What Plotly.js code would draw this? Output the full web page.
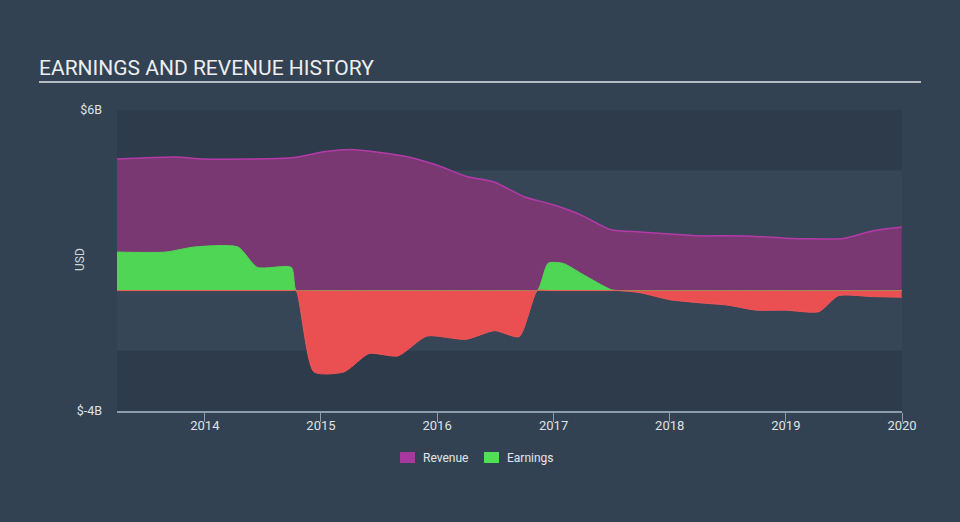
<!DOCTYPE html>
<html>
<head>
<meta charset="utf-8">
<script src="https://cdn.plot.ly/plotly-3.0.1.min.js"></script>
<style>
html,body{margin:0;padding:0;background:#334252;}
#chart{width:960px;height:522px;}
</style>
</head>
<body>
<div id="chart"></div>
<script>
// Revenue (USD, billions)
var revenueDates = ['2013-03-31','2013-09-30','2013-12-31','2014-09-30','2015-01-15','2015-04-01','2015-06-30','2015-09-30','2015-12-31','2016-03-31','2016-06-30','2016-09-30','2016-12-31','2017-03-31','2017-06-30','2017-09-30','2017-12-31','2018-03-31','2018-06-30','2018-09-30','2018-12-31','2019-03-31','2019-06-30','2019-09-30','2019-12-31'];
var revenueValues = [4.37,4.44,4.37,4.41,4.62,4.69,4.60,4.45,4.17,3.80,3.60,3.12,2.85,2.50,2.02,1.95,1.88,1.82,1.82,1.80,1.74,1.72,1.73,1.98,2.11];

// Earnings (USD, billions)
var earningsDates = ['2013-03-31','2013-08-31','2013-11-30','2014-04-15','2014-06-15','2014-09-30','2014-12-10','2015-03-15','2015-06-01','2015-08-31','2015-11-30','2016-03-31','2016-06-30','2016-09-15','2016-12-15','2017-02-01','2017-04-01','2017-07-01','2017-09-30','2017-12-31','2018-03-31','2018-06-30','2018-09-30','2018-12-31','2019-04-15','2019-06-15','2019-09-30','2019-12-31'];
var earningsValues = [1.28,1.28,1.45,1.45,0.77,0.77,-2.70,-2.70,-2.09,-2.17,-1.51,-1.62,-1.33,-1.53,0.91,0.90,0.55,0.03,-0.07,-0.30,-0.40,-0.48,-0.65,-0.65,-0.70,-0.17,-0.20,-0.22];

var tickYears = ['2014','2015','2016','2017','2018','2019','2020'];
var yTickVals = [-4, 6];
var yTickText = ['$-4B','$6B'];
var legendNames = ['Revenue','Earnings'];
var legendColors = ['#a8389e','#4fe055'];

var B = 1e9;
function toMs(d){return new Date(d+'T00:00:00Z').getTime();}
function msToStr(ms){return new Date(ms).toISOString().slice(0,10);}

// split earnings into positive / negative parts, inserting zero crossings
var ex = [], ey = [];
for (var i = 0; i < earningsValues.length; i++) {
  if (i > 0) {
    var a = earningsValues[i-1], b = earningsValues[i];
    if ((a > 0 && b < 0) || (a < 0 && b > 0)) {
      var t = a / (a - b);
      var m = toMs(earningsDates[i-1]) + t * (toMs(earningsDates[i]) - toMs(earningsDates[i-1]));
      ex.push(msToStr(m)); ey.push(0);
    }
  }
  ex.push(earningsDates[i]); ey.push(earningsValues[i]);
}
var posY = ey.map(function(v){return Math.max(v,0)*B;});
var negY = ey.map(function(v){return Math.min(v,0)*B;});

var traces = [
  {
    type:'scatter', mode:'lines', name:legendNames[0], showlegend:false,
    x: revenueDates, y: revenueValues.map(function(v){return v*B;}),
    line:{color:'#b43aa8', width:1.5, shape:'spline', smoothing:0.6},
    fill:'tozeroy', fillcolor:'#7a3873', hoverinfo:'skip'
  },
  {
    type:'scatter', mode:'lines', name:legendNames[1], showlegend:false,
    x: ex, y: posY,
    line:{color:'#4fd655', width:1, shape:'spline', smoothing:0.6},
    fill:'tozeroy', fillcolor:'#4fd655', hoverinfo:'skip'
  },
  {
    type:'scatter', mode:'lines', name:legendNames[1] + ' (loss)', showlegend:false,
    x: ex, y: negY,
    line:{color:'#f0555a', width:1, shape:'spline', smoothing:0.6},
    fill:'tozeroy', fillcolor:'#ea4f51', hoverinfo:'skip'
  }
];

// plot-area pixel helpers for legend/decoration placement
var L = 117, R = 902, T = 110, Bt = 411;
function px(x){return (x - L) / (R - L);}
function py(y){return (Bt - y) / (Bt - T);}

var legendSwatchX = [400, 484];
var legendTextX = [421, 505];

var shapes = [
  {type:'rect', xref:'paper', yref:'y', x0:0, x1:1, y0:4*B, y1:6*B, fillcolor:'#2e3b4a', line:{width:0}, layer:'below'},
  {type:'rect', xref:'paper', yref:'y', x0:0, x1:1, y0:-4*B, y1:-2*B, fillcolor:'#2e3b4a', line:{width:0}, layer:'below'},
  {type:'line', xref:'paper', yref:'paper', x0:px(39), x1:px(921), y0:py(82), y1:py(82), line:{color:'#b4bac2', width:2}}
];
var annotations = [
  {text:'USD', xref:'paper', yref:'paper', x:px(80), y:py(260),
   xanchor:'center', yanchor:'middle', textangle:-90, showarrow:false,
   font:{size:12, color:'#d0d4d9'}}
];
for (var k = 0; k < legendNames.length; k++) {
  shapes.push({type:'rect', xref:'paper', yref:'paper',
    x0:px(legendSwatchX[k]), x1:px(legendSwatchX[k]+15), y0:py(463), y1:py(452),
    fillcolor:legendColors[k], line:{width:0}});
  annotations.push({text:legendNames[k], xref:'paper', yref:'paper',
    x:px(legendTextX[k]), y:py(458), xanchor:'left', yanchor:'middle', showarrow:false,
    font:{size:12, color:'#e4e6ea'}});
}

var layout = {
  width:960, height:522,
  margin:{l:117, r:58, t:110, b:111},
  paper_bgcolor:'#334252',
  plot_bgcolor:'#364656',
  font:{family:'Roboto, "Open Sans", sans-serif', color:'#d9dde2', size:12},
  title:{text:'EARNINGS AND REVENUE HISTORY', x:39/960, xanchor:'left', xref:'container',
         y:1-68/522, yanchor:'middle', yref:'container',
         font:{family:'Roboto, sans-serif', size:21, color:'#eceef0'}},
  showlegend:false,
  xaxis:{
    type:'date', range:['2013-03-31','2020-01-01'],
    tickvals: tickYears.map(function(y){return y+'-01-01';}),
    ticktext: tickYears,
    showgrid:false, zeroline:false,
    showline:true, linecolor:'#8d9bab', linewidth:1.5,
    ticks:'outside', ticklen:9, tickcolor:'#8d9bab', tickwidth:1,
    ticklabelstandoff:-7,
    tickfont:{size:13, color:'#dfe2e6'}, fixedrange:true
  },
  yaxis:{
    range:[-4*B, 6*B],
    tickvals: yTickVals.map(function(v){return v*B;}), ticktext: yTickText,
    showgrid:false, zeroline:true, zerolinecolor:'#f08a86', zerolinewidth:1,
    layer:'above traces',
    showline:false, ticks:'', ticklabelstandoff:14,
    tickfont:{size:12.5, color:'#dfe2e6'},
    fixedrange:true
  },
  annotations: annotations,
  shapes: shapes
};

Plotly.newPlot('chart', traces, layout, {displayModeBar:false, staticPlot:true});
</script>
</body>
</html>
